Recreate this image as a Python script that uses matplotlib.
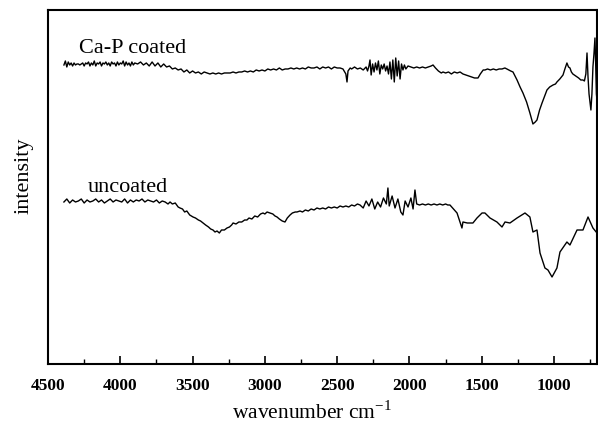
import matplotlib
matplotlib.use("Agg")
import matplotlib.pyplot as plt
from matplotlib.ticker import MultipleLocator

# ---- data ----
coated_wn = [4390, 4380, 4370, 4360, 4350, 4340, 4330, 4320, 4310, 4300, 4290, 4280, 4270, 4260, 4250,
             4240, 4230, 4220, 4210, 4200, 4190, 4180, 4170, 4160, 4150, 4140, 4130, 4120, 4110, 4100,
             4090, 4080, 4070, 4060, 4050, 4040, 4030, 4020, 4010, 4000, 3990, 3980, 3970, 3960, 3950,
             3940, 3930, 3920, 3910, 3900, 3880, 3860, 3840, 3820, 3800, 3780, 3760, 3740, 3720, 3700,
             3680, 3660, 3640, 3620, 3600, 3580, 3560, 3540, 3520, 3500, 3480, 3460, 3440, 3420, 3400,
             3380, 3360, 3340, 3320, 3300, 3280, 3260, 3240, 3220, 3200, 3180, 3160, 3140, 3120, 3100,
             3080, 3060, 3040, 3020, 3000, 2980, 2960, 2940, 2920, 2900, 2880, 2860, 2840, 2820, 2800,
             2780, 2760, 2740, 2720, 2700, 2680, 2660, 2640, 2620, 2600, 2580, 2560, 2540, 2520, 2500,
             2480, 2460, 2440, 2432, 2425, 2410, 2400, 2380, 2360, 2340, 2320, 2300, 2290, 2280, 2273,
             2265, 2255, 2245, 2235, 2225, 2215, 2205, 2195, 2185, 2175, 2165, 2155, 2145, 2135, 2125,
             2115, 2105, 2095, 2085, 2075, 2065, 2055, 2045, 2035, 2025, 2010, 1990, 1970, 1950, 1930,
             1910, 1890, 1870, 1850, 1837, 1820, 1800, 1780, 1768, 1750, 1730, 1710, 1690, 1670, 1650,
             1630, 1610, 1590, 1570, 1550, 1526, 1510, 1490, 1478, 1460, 1440, 1420, 1400, 1380, 1360,
             1340, 1326, 1300, 1284, 1256, 1235, 1215, 1190, 1167, 1146, 1130, 1118, 1100, 1083, 1065,
             1049, 1030, 1007, 990, 980, 960, 938, 925, 911, 900, 890, 880, 870, 860, 841,
             830, 815, 800, 790, 780, 772, 765, 758, 750, 745, 738, 731, 724, 717, 712,
             707, 703]
coated_int = [299, 303, 297, 302, 299, 301, 298, 301, 299, 300, 300, 299, 300, 301, 298,
              301, 300, 302, 298, 301, 299, 303, 298, 301, 300, 302, 298, 301, 300, 302,
              299, 301, 298, 302, 300, 301, 298, 302, 299, 301, 300, 303, 298, 302, 299,
              301, 298, 302, 299, 301, 300, 302, 299, 301, 298, 302, 298, 301, 297, 300,
              297, 298, 295, 296, 294, 295, 292, 294, 291, 293, 291, 292, 290, 292, 291,
              290, 291, 290, 291, 290, 291, 291, 291, 292, 291, 292, 292, 293, 292, 293,
              292, 294, 293, 294, 293, 295, 294, 295, 294, 296, 294, 295, 295, 296, 295,
              296, 295, 296, 295, 297, 296, 296, 297, 295, 297, 296, 297, 295, 297, 296,
              296, 295, 290, 282, 293, 296, 295, 297, 295, 296, 294, 297, 293, 298, 304,
              289, 300, 292, 301, 294, 303, 290, 299, 295, 300, 293, 298, 290, 302, 285,
              304, 282, 306, 288, 303, 285, 300, 294, 299, 295, 298, 297, 296, 297, 296,
              297, 296, 297, 298, 299, 296, 293, 291, 292, 291, 292, 290, 292, 291, 292,
              290, 289, 288, 287, 286, 286, 290, 294, 294, 295, 294, 295, 294, 295, 295,
              296, 295, 293, 292, 284, 277, 271, 262, 251, 240, 242, 244, 254, 261, 268,
              274, 277, 279, 280, 282, 285, 289, 295, 301, 297, 296, 292, 290, 289, 287,
              286, 284, 284, 283, 290, 311, 287, 270, 260, 254, 270, 297, 310, 326, 300,
              270, 264]

uncoated_wn = [4390, 4370, 4350, 4330, 4310, 4290, 4270, 4250, 4230, 4210, 4190, 4170, 4150, 4130, 4110,
               4090, 4070, 4050, 4030, 4010, 3990, 3970, 3950, 3930, 3910, 3890, 3870, 3850, 3830, 3810,
               3790, 3770, 3750, 3730, 3710, 3690, 3670,
               3656, 3640, 3620, 3600, 3587, 3570, 3555, 3540, 3520, 3497, 3480, 3460, 3445, 3428, 3410,
               3390, 3375, 3359, 3345, 3331, 3315, 3300, 3280, 3262, 3245, 3230, 3220, 3200, 3180, 3160,
               3140, 3124, 3110, 3090, 3070, 3050, 3030, 3013, 3000, 2985, 2964, 2945, 2930, 2916, 2900,
               2880, 2861, 2845, 2826, 2810, 2790, 2778, 2757, 2740, 2720, 2700, 2680, 2660, 2640, 2620,
               2600, 2580, 2560, 2540, 2520, 2500, 2480, 2460, 2440, 2420, 2400, 2380, 2360, 2342,
               2320, 2300, 2280, 2260, 2240, 2220, 2200, 2180, 2160,
               2149, 2140, 2120, 2100, 2080, 2060, 2045, 2030, 2010, 1990, 1975, 1962,
               1950, 1930, 1910, 1890, 1870, 1850, 1830, 1810, 1790, 1770, 1750, 1735, 1720,
               1671, 1637, 1630, 1600, 1561, 1533, 1498, 1478, 1443, 1395, 1360, 1339,
               1305, 1256, 1201, 1167, 1146, 1118, 1097, 1063, 1042, 1014, 980, 959, 911, 890, 841,
               800, 765, 731, 703]
uncoated_int = [162, 165, 161, 164, 162, 163, 165, 161, 164, 162, 163, 165, 162, 164, 161,
                163, 165, 162, 164, 163, 162, 165, 161, 164, 162, 164, 163, 165, 162, 164,
                163, 162, 164, 161, 163, 162, 160,
                162, 160, 161, 157, 156, 155, 152, 153, 149, 147, 146, 144, 143, 141, 139,
                137, 135, 134, 132, 133, 131, 134, 134, 136, 137, 139, 141, 140, 142, 142,
                144, 144, 146, 145, 148, 147, 150, 151, 150, 152, 151, 150, 148, 147, 145,
                143, 142, 146, 149, 151, 152, 152, 153, 152, 154, 153, 155, 154, 156, 155,
                156, 155, 157, 156, 157, 156, 158, 157, 158, 157, 159, 158, 160, 159,
                156, 163, 158, 165, 155, 162, 157, 166, 160,
                176, 158, 168, 156, 165, 152, 149, 163, 157, 166, 155, 174,
                160, 159, 160, 159, 160, 159, 160, 159, 160, 159, 160, 159, 159,
                151, 136, 142, 141, 141, 146, 151, 151, 146, 142, 137, 142,
                141, 146, 151, 147, 132, 134, 111, 96, 94, 87, 96, 112, 122, 119, 134,
                134, 147, 136, 131]

xticks = [4500, 4000, 3500, 3000, 2500, 2000, 1500, 1000]

# ---- figure ----
plt.rcParams['font.family'] = ['Liberation Serif', 'DejaVu Serif']
fig = plt.figure(figsize=(5.98, 4.32), dpi=100)
ax = fig.add_axes([0.0803, 0.1574, 0.9180, 0.8195])

ax.plot(coated_wn, coated_int, color='black', lw=1.0)
ax.plot(uncoated_wn, uncoated_int, color='black', lw=1.0)

ax.set_xlim(4500, 703)
ax.set_ylim(0, 354)
ax.set_xticks(xticks)
ax.set_xticklabels([str(t) for t in xticks], fontweight='bold', fontsize=12.5)
ax.xaxis.set_minor_locator(MultipleLocator(250))
ax.tick_params(axis='x', which='major', direction='in', length=6, width=1.2, pad=10)
ax.tick_params(axis='x', which='minor', direction='in', length=3.5, width=1.0)
ax.set_yticks([])
for s in ax.spines.values():
    s.set_linewidth(1.5)

ax.text(4286, 311, 'Ca-P coated', fontsize=16, va='baseline', ha='left')
ax.text(4223, 172, 'uncoated', fontsize=16, va='baseline', ha='left')

ax.set_ylabel('intensity', fontsize=16)
ax.yaxis.set_label_coords(-0.027, 0.531)
ax.set_xlabel('wavenumber cm$^{\\mathregular{-1}}$', fontsize=15.5)
ax.xaxis.set_label_coords(0.481, -0.105)

fig.savefig('out.png', dpi=100)
